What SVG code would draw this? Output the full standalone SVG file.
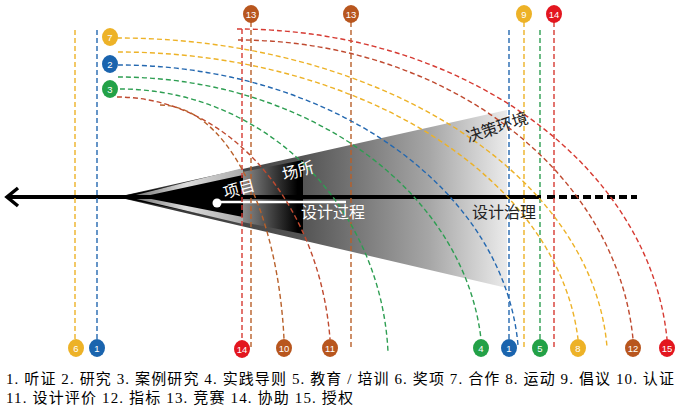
<svg xmlns="http://www.w3.org/2000/svg" width="679" height="417" viewBox="0 0 679 417">
<defs>
 <linearGradient id="gEnv" gradientUnits="userSpaceOnUse" x1="117" y1="0" x2="507" y2="0">
  <stop offset="0" stop-color="#2a2a2a"/>
  <stop offset="0.48" stop-color="#555555"/>
  <stop offset="0.8" stop-color="#a6a6a6"/>
  <stop offset="1" stop-color="#ebebeb"/>
 </linearGradient>
 <linearGradient id="gSite" gradientUnits="userSpaceOnUse" x1="117" y1="0" x2="303" y2="0">
  <stop offset="0" stop-color="#000"/>
  <stop offset="0.675" stop-color="#000"/>
  <stop offset="0.677" stop-color="#8a8a8a"/>
  <stop offset="0.97" stop-color="#000"/>
 </linearGradient>
 <linearGradient id="gBand" gradientUnits="userSpaceOnUse" x1="128" y1="0" x2="243" y2="0">
  <stop offset="0" stop-color="#666"/>
  <stop offset="0.5" stop-color="#dddddd"/>
  <stop offset="1" stop-color="#aaaaaa"/>
 </linearGradient>
</defs>
<style>
 .d{fill:none;stroke-width:1.4;stroke-dasharray:5 3}
 .y{stroke:#EDB227} .b{stroke:#2468B0} .g{stroke:#2E9E52} .r{stroke:#D63A32} .br{stroke:#B8602A} .rb{stroke:#BF4A30}
 .pin text{font-family:"Liberation Sans",Arial,sans-serif;font-size:9.5px;fill:#fff;text-anchor:middle}
 .cY{fill:#EDB227} .cB{fill:#1A64AE} .cG{fill:#23A147} .cBr{fill:#B8561E} .cR{fill:#E3161F}
 .lbl{font-family:"Noto Sans CJK SC",sans-serif;font-size:16px}
 .leg{font-family:"Liberation Serif","Noto Sans CJK SC",serif;font-size:15px;fill:#000}
</style>
<rect width="679" height="417" fill="#fff"/>

<g id="env">
 <polygon points="117,197 507,110 507,288" fill="url(#gEnv)"/>
</g>
<g id="site">
 <polygon points="117,197 303,160 303,234" fill="url(#gSite)"/>
</g>
<g id="project">
 <polygon points="128,197 243,168 243,224" fill="url(#gBand)"/>
 <polygon points="141,197 243,175 243,217" fill="#000"/>
</g>

<g id="axis">
 <line x1="8" y1="197" x2="541" y2="197" stroke="#000" stroke-width="4"/>
 <line x1="547" y1="197" x2="637" y2="197" stroke="#000" stroke-width="4" stroke-dasharray="8 4"/>
 <polyline points="18,188 7,197 18,206" fill="none" stroke="#000" stroke-width="3.5"/>
</g>

<g id="process">
 <line x1="217" y1="202" x2="346" y2="202" stroke="#fff" stroke-width="2.5"/>
 <circle cx="217" cy="203" r="4.5" fill="#fff"/>
</g>

<g id="connectors">
 <line class="d y" x1="75" y1="30" x2="75" y2="339"/>
 <line class="d b" x1="97" y1="30" x2="97" y2="339"/>
 <line class="d r" x1="242" y1="29" x2="242" y2="340"/>
 <line class="d br" x1="251" y1="22" x2="251" y2="348"/>
 <line class="d br" x1="351" y1="22" x2="351" y2="348"/>
 <line class="d b" x1="509" y1="30" x2="509" y2="339"/>
 <line class="d y" x1="524" y1="22" x2="524" y2="347"/>
 <line class="d g" x1="540" y1="30" x2="540" y2="339"/>
 <line class="d r" x1="554" y1="22" x2="554" y2="348"/>

 <path class="d r" d="M237,29 A431.3,336 0 0 1 667,339"/>
 <path class="d rb" d="M238,40 A396.3,325 0 0 1 633,339"/>
 <path class="d y" d="M117,38 A490.7,327 0 0 1 607,347"/>
 <path class="d y" d="M118,52 A461.6,313 0 0 1 578,339"/>
 <path class="d b" d="M118,65 A400.9,300 0 0 1 518,345"/>
 <path class="d g" d="M118,77 A364.5,288 0 0 1 481,339"/>
 <path class="d g" d="M120,89 A268.3,276 0 0 1 388,352"/>
 <path class="d rb" d="M117,97 A214,268 0 0 1 330,339"/>
 <path class="d br" d="M160,105 A124.6,260 0 0 1 284,339"/>
</g>

<g id="labels" class="lbl">
 <text x="239" y="194.5" fill="#fff" text-anchor="middle" transform="rotate(-15 239 189)">项目</text>
 <text x="298" y="176.5" fill="#fff" text-anchor="middle" transform="rotate(-15 298 171)">场所</text>
 <text x="333" y="218" fill="#fff" text-anchor="middle">设计过程</text>
 <text x="504" y="218" fill="#222" text-anchor="middle">设计治理</text>
 <text x="497" y="133" fill="#222" text-anchor="middle" transform="rotate(-18 497 127)">决策环境</text>
</g>

<g id="n7" class="pin"><ellipse class="cY" cx="110" cy="37" rx="8" ry="9"/><text x="110" y="40.5">7</text></g>
<g id="n2" class="pin"><ellipse class="cB" cx="110" cy="64" rx="8" ry="9"/><text x="110" y="67.5">2</text></g>
<g id="n3" class="pin"><ellipse class="cG" cx="110" cy="89" rx="8" ry="9"/><text x="110" y="92.5">3</text></g>
<g id="n13a" class="pin"><ellipse class="cBr" cx="251" cy="14" rx="8" ry="9"/><text x="251" y="17.5">13</text></g>
<g id="n13b" class="pin"><ellipse class="cBr" cx="351" cy="14" rx="8" ry="9"/><text x="351" y="17.5">13</text></g>
<g id="n9" class="pin"><ellipse class="cY" cx="524" cy="14" rx="8" ry="9"/><text x="524" y="17.5">9</text></g>
<g id="n14a" class="pin"><ellipse class="cR" cx="554" cy="14" rx="8" ry="9"/><text x="554" y="17.5">14</text></g>

<g id="n6" class="pin"><ellipse class="cY" cx="76" cy="348" rx="8" ry="9"/><text x="76" y="351.5">6</text></g>
<g id="n1a" class="pin"><ellipse class="cB" cx="97" cy="348" rx="8" ry="9"/><text x="97" y="351.5">1</text></g>
<g id="n14b" class="pin"><ellipse class="cR" cx="242" cy="349" rx="8" ry="9"/><text x="242" y="352.5">14</text></g>
<g id="n10" class="pin"><ellipse class="cBr" cx="284" cy="348" rx="8" ry="9"/><text x="284" y="351.5">10</text></g>
<g id="n11" class="pin"><ellipse class="cBr" cx="330" cy="348" rx="8" ry="9"/><text x="330" y="351.5">11</text></g>
<g id="n4" class="pin"><ellipse class="cG" cx="481" cy="348" rx="8" ry="9"/><text x="481" y="351.5">4</text></g>
<g id="n1b" class="pin"><ellipse class="cB" cx="509" cy="348" rx="8" ry="9"/><text x="509" y="351.5">1</text></g>
<g id="n5" class="pin"><ellipse class="cG" cx="540" cy="348" rx="8" ry="9"/><text x="540" y="351.5">5</text></g>
<g id="n8" class="pin"><ellipse class="cY" cx="578" cy="348" rx="8" ry="9"/><text x="578" y="351.5">8</text></g>
<g id="n12" class="pin"><ellipse class="cBr" cx="633" cy="348" rx="8" ry="9"/><text x="633" y="351.5">12</text></g>
<g id="n15" class="pin"><ellipse class="cR" cx="667" cy="348" rx="8" ry="9"/><text x="667" y="351.5">15</text></g>

<g id="legend" class="leg">
 <text x="6" y="384" textLength="668" lengthAdjust="spacing">1. 听证 2. 研究 3. 案例研究 4. 实践导则 5. 教育 / 培训 6. 奖项 7. 合作 8. 运动 9. 倡议 10. 认证</text>
 <text x="6" y="403" textLength="347" lengthAdjust="spacing">11. 设计评价 12. 指标 13. 竞赛 14. 协助 15. 授权</text>
</g>
</svg>
